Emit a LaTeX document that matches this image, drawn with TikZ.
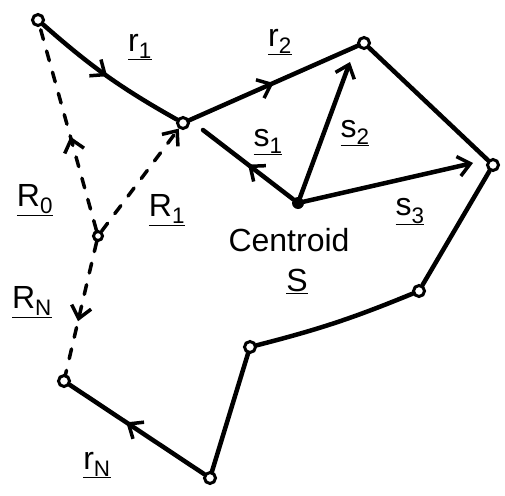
\documentclass[tikz,border=0pt]{standalone}
\usepackage{fontspec}
\setmainfont{Liberation Sans}
\usetikzlibrary{arrows.meta,decorations.markings}
\begin{document}
\begin{tikzpicture}[x=1pt,y=-1pt,
  edge/.style={line width=4.5pt, line cap=round},
  vtx/.style={circle, draw, line width=3pt, fill=white, inner sep=0pt, minimum size=11pt},
  cdot/.style={circle, fill=black, inner sep=0pt, minimum size=12pt},
  tipend/.style={-{Straight Barb[length=12pt,width=20pt,line width=3.5pt]}},
  midarrow/.style={postaction={decorate}, decoration={markings, mark=at position #1 with {\arrow[solid]{Straight Barb[length=12pt,width=20pt,line width=3.5pt]}}}},
  rdash/.style={line width=3.5pt, line cap=round, dash pattern=on 10pt off 12pt},
  lbl/.style={font=\fontsize{32}{34}\selectfont, inner sep=0pt}
]
\useasboundingbox (0,0) rectangle (505,495);

% polygon vertices
\node[vtx] (v0) at (38,20) {};
\node[vtx] (v1) at (183,123) {};
\node[vtx] (v2) at (364,43) {};
\node[vtx] (v3) at (493,165) {};
\node[vtx] (v4) at (419,291) {};
\node[vtx] (v5) at (250,347) {};
\node[vtx] (v6) at (210,478) {};
\node[vtx] (v7) at (64,381) {};
\node[vtx, minimum size=9pt] (o) at (98,236) {};
\node[cdot] (c) at (298,203) {};
\coordinate (s1end) at (203,130);
\coordinate (s2end) at (350,62);
\coordinate (s3end) at (473,163);

% polygon edges
\draw[edge, midarrow=0.5] (v0) to[bend right=6] (v1);
\draw[edge, midarrow=0.5] (v1) -- (v2);
\draw[edge] (v2) -- (v3);
\draw[edge] (v3) -- (v4);
\draw[edge] (v4) to[bend left=4] (v5);
\draw[edge] (v5) -- (v6);
\draw[edge, midarrow=0.58] (v6) -- (v7);

% position vectors (dashed)
\draw[rdash, midarrow=0.46] (o) -- (v0);
\draw[rdash, tipend] (o) -- (v1);
\draw[rdash, midarrow=0.6] (o) -- (v7);

% centroid vectors
\draw[edge, midarrow=0.5] (c) -- (s1end);
\draw[edge, tipend] (c) -- (s2end);
\draw[edge, tipend] (c) -- (s3end);

% labels
\node[lbl] (lr1) at (140,47) {\underline{r\textsubscript{1}}};
\node[lbl] (lr2) at (280,42) {\underline{r\textsubscript{2}}};
\node[lbl] (ls1) at (268,142) {\underline{s\textsubscript{1}}};
\node[lbl] (ls2) at (355,133) {\underline{s\textsubscript{2}}};
\node[lbl] (ls3) at (410,212) {\underline{s\textsubscript{3}}};
\node[lbl] (lR0) at (35,200) {\underline{R\textsubscript{0}}};
\node[lbl] (lR1) at (167,210) {\underline{R\textsubscript{1}}};
\node[lbl] (lRN) at (32,302) {\underline{R\textsubscript{N}}};
\node[lbl] (lrN) at (97,465) {\underline{r\textsubscript{N}}};
\node[lbl] (lcen) at (289,240) {Centroid};
\node[lbl] (lS) at (297,281) {\underline{S}};
\end{tikzpicture}
\end{document}
